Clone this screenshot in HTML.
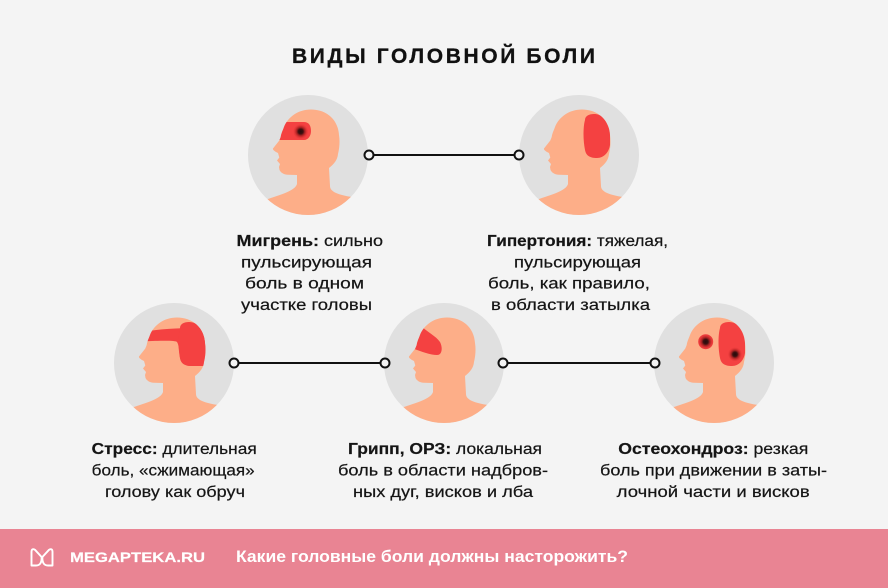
<!DOCTYPE html>
<html>
<head>
<meta charset="utf-8">
<style>
  html,body{margin:0;padding:0;background:#f4f4f4;}
  svg{display:block;}
  text{font-family:"Liberation Sans","DejaVu Sans",sans-serif;}
</style>
</head>
<body>
<svg width="888" height="588" viewBox="0 0 888 588" xmlns="http://www.w3.org/2000/svg">
  <defs>
    <path id="headp" d="M-11,20 L-11,29 C-13,35 -22,38 -40,44 L-64,52 L-64,64 L64,64 L64,44 L44,42 C31,40 22,37 22,31 L21,13 C26,9 29.5,5 30,-1 C31.5,-7 32,-14 31,-20 C30,-36 18,-45.5 3,-45.5 C-10,-45.5 -20,-38 -24,-28 C-25.5,-24 -27,-21 -27.3,-18 L-28.7,-14.5 L-35,-6.5 C-35.5,-5 -33,-3.5 -30,-2 L-28.7,2.5 L-31,5.5 L-28,9 L-29,12 L-28.5,15 C-27,18 -24,19.5 -20,19.8 Z"/>
    <clipPath id="cc"><circle cx="0" cy="0" r="60"/></clipPath>
    <clipPath id="hc"><use href="#headp"/></clipPath>
    <radialGradient id="tg" cx="0.5" cy="0.5" r="0.5">
      <stop offset="0" stop-color="#260b0b"/>
      <stop offset="0.32" stop-color="#3e1010"/>
      <stop offset="0.55" stop-color="#a82323"/>
      <stop offset="0.8" stop-color="#e23636"/>
      <stop offset="1" stop-color="#f24141"/>
    </radialGradient>
    <path id="backp" d="M6,-35 C6,-39 10,-41 15,-41 C24,-41 30,-33 31,-24 L31,-10 C30,-3 25,3 18,3 C10,3 7,0 6,-5 C4,-15 4,-28 6,-35 Z"/>
  </defs>

  <rect x="0" y="0" width="888" height="588" fill="#f4f4f4"/>

  <!-- Title -->
  <text x="292" y="63" font-size="21" font-weight="700" fill="#111" stroke="#111" stroke-width="0.3" textLength="303" lengthAdjust="spacing">ВИДЫ ГОЛОВНОЙ БОЛИ</text>

  <!-- Connectors -->
  <g stroke="#111" stroke-width="2" fill="#f4f4f4">
    <line x1="369" y1="155" x2="519" y2="155"/>
    <line x1="234" y1="363" x2="385" y2="363"/>
    <line x1="503" y1="363" x2="655" y2="363"/>
  </g>

  <!-- Head 1: Migraine -->
  <g transform="translate(308,155)">
    <circle r="60" fill="#e0e0e0"/>
    <g clip-path="url(#cc)"><use href="#headp" fill="#fdae88"/></g>
    <g clip-path="url(#hc)">
      <path d="M-30,-33 L-4,-33 C1,-33 3,-29 3,-24 C3,-19 0,-15 -4,-15 L-30,-15 Z" fill="#f44141"/>
    </g>
    <circle cx="-7.3" cy="-23.5" r="7.5" fill="url(#tg)"/>
  </g>

  <!-- Head 2: Hypertension -->
  <g transform="translate(579,155)">
    <circle r="60" fill="#e0e0e0"/>
    <g clip-path="url(#cc)"><use href="#headp" fill="#fdae88"/></g>
    <g clip-path="url(#hc)"><use href="#backp" fill="#f44141"/></g>
  </g>

  <!-- Head 3: Stress -->
  <g transform="translate(174,363)">
    <circle r="60" fill="#e0e0e0"/>
    <g clip-path="url(#cc)"><use href="#headp" fill="#fdae88"/></g>
    <g clip-path="url(#hc)">
      <path d="M-32,-31 C-15,-34 5,-35 20,-35 L40,-35 L40,3 L18,3 C10,3 7,0 6,-5 C5,-12 5,-18 3,-21 C1,-22.5 -10,-22.5 -32,-21.5 Z" fill="#f44141"/>
      <use href="#backp" fill="#f44141"/>
    </g>
  </g>

  <!-- Head 4: Flu -->
  <g transform="translate(444,363)">
    <circle r="60" fill="#e0e0e0"/>
    <g clip-path="url(#cc)"><use href="#headp" fill="#fdae88"/></g>
    <g clip-path="url(#hc)">
      <path d="M-24,-38 C-17,-31 -8,-27 -4,-21 C-1,-15 -2,-8 -7,-8 C-13,-8 -22,-11 -32,-15 L-32,-38 Z" fill="#f44141"/>
    </g>
  </g>

  <!-- Head 5: Osteochondrosis -->
  <g transform="translate(714,363)">
    <circle r="60" fill="#e0e0e0"/>
    <g clip-path="url(#cc)"><use href="#headp" fill="#fdae88"/></g>
    <g clip-path="url(#hc)"><use href="#backp" fill="#f44141"/></g>
    <circle cx="-8.3" cy="-21.3" r="7.5" fill="url(#tg)"/>
    <circle cx="21" cy="-8.7" r="7" fill="url(#tg)"/>
  </g>

  <!-- Connector nodes -->
  <g stroke="#111" stroke-width="2" fill="#f4f4f4">
    <circle cx="369" cy="155" r="4.5"/>
    <circle cx="519" cy="155" r="4.5"/>
    <circle cx="234" cy="363" r="4.5"/>
    <circle cx="385" cy="363" r="4.5"/>
    <circle cx="503" cy="363" r="4.5"/>
    <circle cx="655" cy="363" r="4.5"/>
  </g>

  <!-- Texts -->
  <g font-size="15.3" fill="#151515" stroke="#151515" stroke-width="0.2">
    <!-- Migraine -->
    <text x="236.5" y="246" textLength="146.5" lengthAdjust="spacingAndGlyphs"><tspan font-weight="700">Мигрень:</tspan> сильно</text>
    <text x="241" y="267.3" textLength="131" lengthAdjust="spacingAndGlyphs">пульсирующая</text>
    <text x="245" y="288.6" textLength="119" lengthAdjust="spacingAndGlyphs">боль в одном</text>
    <text x="241" y="310" textLength="131" lengthAdjust="spacingAndGlyphs">участке головы</text>

    <!-- Hypertension -->
    <text x="487" y="246" textLength="181" lengthAdjust="spacingAndGlyphs"><tspan font-weight="700">Гипертония:</tspan> тяжелая,</text>
    <text x="514" y="267.3" textLength="127" lengthAdjust="spacingAndGlyphs">пульсирующая</text>
    <text x="488" y="288.6" textLength="162" lengthAdjust="spacingAndGlyphs">боль, как правило,</text>
    <text x="491" y="310" textLength="159" lengthAdjust="spacingAndGlyphs">в области затылка</text>

    <!-- Stress -->
    <text x="91.7" y="454" textLength="165" lengthAdjust="spacingAndGlyphs"><tspan font-weight="700">Стресс:</tspan> длительная</text>
    <text x="91.7" y="475.5" textLength="163" lengthAdjust="spacingAndGlyphs">боль, «сжимающая»</text>
    <text x="105" y="497" textLength="140" lengthAdjust="spacingAndGlyphs">голову как обруч</text>

    <!-- Flu -->
    <text x="348" y="454" textLength="194" lengthAdjust="spacingAndGlyphs"><tspan font-weight="700">Грипп, ОРЗ:</tspan> локальная</text>
    <text x="338" y="475.5" textLength="210" lengthAdjust="spacingAndGlyphs">боль в области надбров-</text>
    <text x="353" y="497" textLength="180" lengthAdjust="spacingAndGlyphs">ных дуг, висков и лба</text>

    <!-- Osteochondrosis -->
    <text x="618.3" y="454" textLength="190" lengthAdjust="spacingAndGlyphs"><tspan font-weight="700">Остеохондроз:</tspan> резкая</text>
    <text x="600" y="475.5" textLength="227" lengthAdjust="spacingAndGlyphs">боль при движении в заты-</text>
    <text x="616.7" y="497" textLength="193" lengthAdjust="spacingAndGlyphs">лочной части и висков</text>
  </g>

  <!-- Footer -->
  <rect x="0" y="529" width="888" height="59" fill="#e98493"/>
  <g fill="none" stroke="#ffffff" stroke-width="1.9" stroke-linejoin="round" stroke-linecap="round">
    <path d="M31.5,565.5 V552 Q31.5,548 35,549.8 L41.6,557 Q42,565.5 36,565.5 Z"/>
    <path d="M52.5,565.5 V552 Q52.5,548 49,549.8 L42.4,557 Q42,565.5 48,565.5 Z"/>
  </g>
  <text x="70" y="562" font-size="14" font-weight="700" fill="#ffffff" stroke="#ffffff" stroke-width="0.2" textLength="135" lengthAdjust="spacingAndGlyphs">MEGAPTEKA.RU</text>
  <text x="236" y="562" font-size="16.5" font-weight="700" fill="#ffffff" textLength="392" lengthAdjust="spacingAndGlyphs">Какие головные боли должны насторожить?</text>
</svg>
</body>
</html>
